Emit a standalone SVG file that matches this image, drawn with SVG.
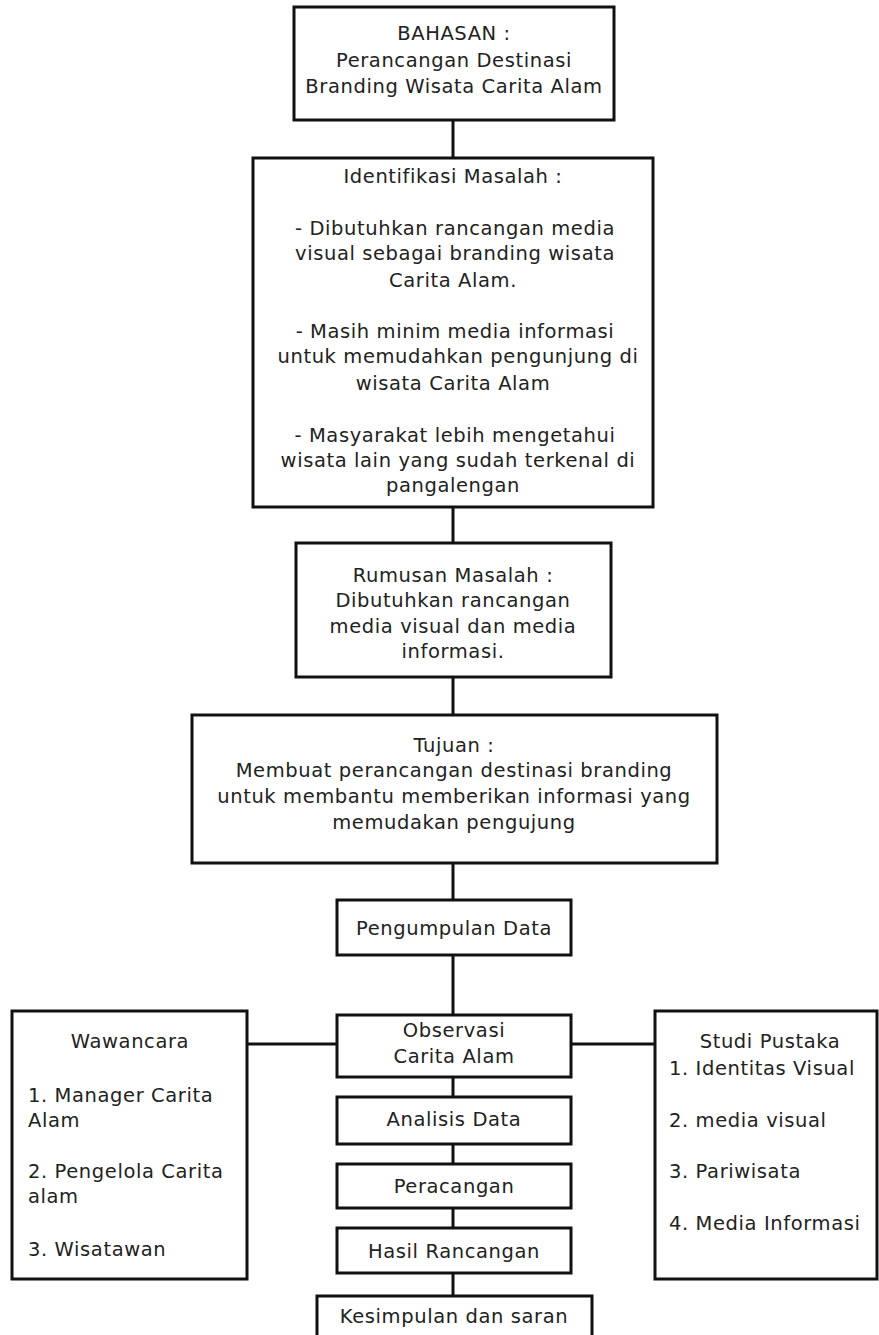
<svg xmlns="http://www.w3.org/2000/svg" width="879" height="1335" viewBox="0 0 879 1335">
<style>
.box{fill:#fff;stroke:#111;stroke-width:3}
.ln{stroke:#111;stroke-width:3;fill:none}
text{font-family:"DejaVu Sans","Open Sans",sans-serif;font-size:19.5px;letter-spacing:0.6px;fill:#222}
.c{text-anchor:middle}
</style>
<rect width="879" height="1335" fill="#fff"/>
<g id="connectors">
<line class="ln" x1="453" y1="120" x2="453" y2="158"/>
<line class="ln" x1="453" y1="507" x2="453" y2="543"/>
<line class="ln" x1="453" y1="677" x2="453" y2="715"/>
<line class="ln" x1="453" y1="863" x2="453" y2="900"/>
<line class="ln" x1="453" y1="955" x2="453" y2="1015"/>
<line class="ln" x1="453" y1="1077" x2="453" y2="1097"/>
<line class="ln" x1="453" y1="1144" x2="453" y2="1164"/>
<line class="ln" x1="453" y1="1208" x2="453" y2="1228"/>
<line class="ln" x1="453" y1="1273" x2="453" y2="1296"/>
<line class="ln" x1="247" y1="1044" x2="337" y2="1044"/>
<line class="ln" x1="571" y1="1044" x2="655" y2="1044"/>
</g>
<g id="bahasan">
<rect class="box" x="294" y="7" width="320" height="113"/>
<text class="c" x="454" y="40">BAHASAN :</text>
<text class="c" x="454" y="67">Perancangan Destinasi</text>
<text class="c" x="454" y="93">Branding Wisata Carita Alam</text>
</g>
<g id="identifikasi">
<rect class="box" x="253" y="158" width="400" height="349"/>
<text class="c" x="453" y="183">Identifikasi Masalah :</text>
<text class="c" x="455" y="235">- Dibutuhkan rancangan media</text>
<text class="c" x="455" y="260">visual sebagai branding wisata</text>
<text class="c" x="453" y="287">Carita Alam.</text>
<text class="c" x="455" y="338">- Masih minim media informasi</text>
<text class="c" x="458" y="363">untuk memudahkan pengunjung di</text>
<text class="c" x="453" y="390">wisata Carita Alam</text>
<text class="c" x="455" y="442">- Masyarakat lebih mengetahui</text>
<text class="c" x="458" y="467">wisata lain yang sudah terkenal di</text>
<text class="c" x="453" y="492">pangalengan</text>
</g>
<g id="rumusan">
<rect class="box" x="296" y="543" width="315" height="134"/>
<text class="c" x="453" y="582">Rumusan Masalah :</text>
<text class="c" x="453" y="607">Dibutuhkan rancangan</text>
<text class="c" x="453" y="633">media visual dan media</text>
<text class="c" x="453" y="658">informasi.</text>
</g>
<g id="tujuan">
<rect class="box" x="192" y="715" width="525" height="148"/>
<text class="c" x="454" y="752">Tujuan :</text>
<text class="c" x="454" y="777">Membuat perancangan destinasi branding</text>
<text class="c" x="454" y="803">untuk membantu memberikan informasi yang</text>
<text class="c" x="454" y="829">memudakan pengujung</text>
</g>
<g id="pengumpulan">
<rect class="box" x="337" y="900" width="234" height="55"/>
<text class="c" x="454" y="935">Pengumpulan Data</text>
</g>
<g id="observasi">
<rect class="box" x="337" y="1015" width="234" height="62"/>
<text class="c" x="454" y="1037">Observasi</text>
<text class="c" x="454" y="1063">Carita Alam</text>
</g>
<g id="analisis">
<rect class="box" x="337" y="1097" width="234" height="47"/>
<text class="c" x="454" y="1126">Analisis Data</text>
</g>
<g id="peracangan">
<rect class="box" x="337" y="1164" width="234" height="44"/>
<text class="c" x="454" y="1193">Peracangan</text>
</g>
<g id="hasil">
<rect class="box" x="337" y="1228" width="234" height="45"/>
<text class="c" x="454" y="1258">Hasil Rancangan</text>
</g>
<g id="kesimpulan">
<rect class="box" x="317" y="1296" width="275" height="50"/>
<text class="c" x="454" y="1323">Kesimpulan dan saran</text>
</g>
<g id="wawancara">
<rect class="box" x="12" y="1011" width="235" height="268"/>
<text class="c" x="130" y="1048">Wawancara</text>
<text x="28" y="1102">1. Manager Carita</text>
<text x="28" y="1127">Alam</text>
<text x="28" y="1178">2. Pengelola Carita</text>
<text x="28" y="1203">alam</text>
<text x="28" y="1256">3. Wisatawan</text>
</g>
<g id="studi">
<rect class="box" x="655" y="1011" width="222" height="268"/>
<text class="c" x="770" y="1048">Studi Pustaka</text>
<text x="669" y="1075">1. Identitas Visual</text>
<text x="669" y="1127">2. media visual</text>
<text x="669" y="1178">3. Pariwisata</text>
<text x="669" y="1230">4. Media Informasi</text>
</g>
</svg>
